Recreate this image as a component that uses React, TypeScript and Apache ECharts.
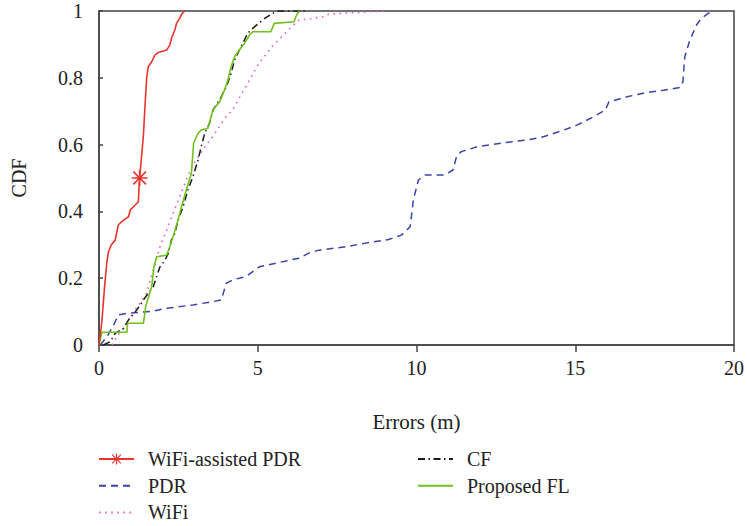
import React, { useEffect, useRef } from "react";
import * as echarts from "echarts";

const FONT = '"Liberation Serif", "Times New Roman", serif';

const X_TICKS = [0, 5, 10, 15, 20];
const Y_TICKS = [0, 0.2, 0.4, 0.6, 0.8, 1];

const STAR_POINT: [number, number] = [1.28, 0.5];

const wifiAssistedPdr: [number, number][] = [
  [0, 0], [0.09, 0.07], [0.18, 0.18], [0.25, 0.25], [0.3, 0.28], [0.39, 0.3],
  [0.51, 0.314], [0.61, 0.36], [0.77, 0.374], [0.93, 0.384], [0.98, 0.404],
  [1.14, 0.419], [1.24, 0.429], [1.26, 0.469], [1.28, 0.5], [1.4, 0.629],
  [1.45, 0.719], [1.5, 0.798], [1.55, 0.833], [1.66, 0.848], [1.76, 0.868],
  [1.87, 0.876], [2.13, 0.883], [2.23, 0.898], [2.3, 0.923], [2.39, 0.943],
  [2.44, 0.963], [2.54, 0.978], [2.62, 0.993], [2.7, 1.0],
];

const pdr: [number, number][] = [
  [0.04, 0], [0.25, 0.025], [0.46, 0.06], [0.61, 0.09], [0.88, 0.095], [1.61, 0.1],
  [2.13, 0.11], [2.96, 0.12], [3.59, 0.13], [3.85, 0.135], [4.01, 0.185], [4.21, 0.195],
  [4.63, 0.205], [5.05, 0.234], [5.57, 0.245], [6.3, 0.26], [6.61, 0.275], [6.93, 0.284],
  [7.76, 0.294], [8.39, 0.305], [9.12, 0.316], [9.53, 0.329], [9.8, 0.354], [9.9, 0.434],
  [10.06, 0.494], [10.27, 0.509], [10.89, 0.509], [11.15, 0.524], [11.26, 0.564],
  [11.41, 0.579], [11.93, 0.594], [12.77, 0.606], [13.5, 0.614], [14.02, 0.624],
  [14.65, 0.644], [15.07, 0.659], [15.59, 0.684], [15.95, 0.704], [16.06, 0.728],
  [16.63, 0.743], [17.15, 0.754], [17.78, 0.763], [18.3, 0.771], [18.39, 0.788],
  [18.45, 0.863], [18.61, 0.913], [18.82, 0.958], [18.97, 0.978], [19.19, 0.993],
  [19.3, 1.0],
];

const wifi: [number, number][] = [
  [0.41, 0], [0.56, 0.025], [0.77, 0.05], [0.98, 0.085], [1.29, 0.125], [1.5, 0.155],
  [1.71, 0.225], [1.92, 0.294], [2.13, 0.344], [2.33, 0.394], [2.54, 0.444],
  [2.75, 0.494], [2.96, 0.539], [3.17, 0.57], [3.38, 0.6], [3.59, 0.625], [3.8, 0.655],
  [4.01, 0.685], [4.21, 0.705], [4.42, 0.74], [4.63, 0.775], [4.84, 0.81], [5.05, 0.845],
  [5.26, 0.87], [5.46, 0.895], [5.78, 0.925], [6.09, 0.955], [6.3, 0.973], [6.72, 0.978],
  [7.08, 0.983], [7.22, 0.99], [7.61, 0.993], [8.23, 0.996], [9.0, 1.0],
];

const cf: [number, number][] = [
  [0.14, 0], [0.35, 0.01], [0.51, 0.035], [0.77, 0.05], [0.93, 0.075], [1.19, 0.105],
  [1.4, 0.135], [1.55, 0.155], [1.71, 0.175], [1.92, 0.234], [2.08, 0.254], [2.18, 0.274],
  [2.28, 0.314], [2.39, 0.334], [2.49, 0.374], [2.65, 0.414], [2.8, 0.464], [2.96, 0.504],
  [3.12, 0.554], [3.22, 0.594], [3.33, 0.634], [3.48, 0.664], [3.59, 0.704], [3.8, 0.734],
  [4.01, 0.773], [4.16, 0.813], [4.27, 0.853], [4.42, 0.883], [4.58, 0.913], [4.68, 0.933],
  [4.84, 0.948], [5.15, 0.973], [5.46, 0.993], [5.67, 1.0], [6.6, 1.0],
];

const proposedFl: [number, number][] = [
  [0, 0], [0.09, 0.038], [0.88, 0.038], [0.9, 0.065], [1.4, 0.065], [1.47, 0.115],
  [1.66, 0.175], [1.73, 0.234], [1.82, 0.264], [2.13, 0.269], [2.23, 0.294], [2.33, 0.324],
  [2.49, 0.374], [2.6, 0.414], [2.75, 0.464], [2.91, 0.514], [2.98, 0.604], [3.12, 0.634],
  [3.22, 0.644], [3.43, 0.649], [3.59, 0.704], [3.8, 0.728], [3.95, 0.763], [4.06, 0.793],
  [4.16, 0.833], [4.27, 0.863], [4.42, 0.883], [4.58, 0.903], [4.74, 0.928], [4.84, 0.938],
  [5.41, 0.938], [5.52, 0.963], [6.14, 0.968], [6.2, 0.983], [6.3, 1.0],
];

const ASTERISK =
  "path://M0 9L20 9L20 11L0 11Z M9 0L11 0L11 20L9 20Z M1.4 2.8L2.8 1.4L18.6 17.2L17.2 18.6Z M17.2 1.4L18.6 2.8L2.8 18.6L1.4 17.2Z";

export default function App() {
  const ref = useRef<HTMLDivElement>(null);
  useEffect(() => {
    if (!ref.current) return;
    const chart = echarts.init(ref.current, null, { renderer: "svg" });
    const legendText = { fontFamily: FONT, fontSize: 20, color: "#222", padding: [0, 0, 0, 9] };
    const starIdx = wifiAssistedPdr.findIndex((p) => p[0] === STAR_POINT[0] && p[1] === STAR_POINT[1]);
    const plain = (name: string) => ({ name, itemStyle: { opacity: 0 } });
    const legendBase = {
      orient: "vertical", itemWidth: 35, itemHeight: 14, itemGap: 6.7,
      padding: 0, height: 140, textStyle: legendText,
    };
    chart.setOption({
      animation: false,
      backgroundColor: "#fff",
      grid: {
        left: 99, right: 10, top: 11, bottom: 181,
        show: true, borderColor: "#444", borderWidth: 1.5, backgroundColor: "transparent",
      },
      legend: [
        { ...legendBase, left: 98, top: 449, data: ["WiFi-assisted PDR", plain("PDR"), plain("WiFi")] },
        { ...legendBase, left: 417, top: 449, data: [plain("CF"), plain("Proposed FL")] },
      ],
      xAxis: {
        type: "value", min: X_TICKS[0], max: X_TICKS[X_TICKS.length - 1], interval: 5,
        name: "Errors (m)", nameLocation: "middle", nameGap: 66,
        nameTextStyle: { fontFamily: FONT, fontSize: 21, color: "#222" },
        axisLine: { lineStyle: { color: "#444", width: 1.5 } },
        axisTick: { show: true, length: 7, lineStyle: { color: "#444", width: 1.5 } },
        axisLabel: { fontFamily: FONT, fontSize: 20, color: "#222", margin: 13 },
        splitLine: { show: false },
      },
      yAxis: {
        type: "value", min: Y_TICKS[0], max: Y_TICKS[Y_TICKS.length - 1], interval: 0.2,
        name: "CDF", nameLocation: "middle", nameGap: 70,
        nameTextStyle: { fontFamily: FONT, fontSize: 20, color: "#222" },
        axisLine: { lineStyle: { color: "#444", width: 1.5 } },
        axisTick: { show: true, inside: true, length: 4, lineStyle: { color: "#444", width: 1.5 } },
        axisLabel: {
          fontFamily: FONT, fontSize: 20, color: "#222", margin: 16,
          formatter: (v: number) => String(parseFloat(v.toFixed(1))),
        },
        splitLine: { show: false },
      },
      series: [
        {
          name: "PDR", type: "line", data: pdr, symbol: "none", z: 2,
          lineStyle: { color: "#3c43a8", width: 1.5, type: [7, 5] }, itemStyle: { color: "#3c43a8" },
        },
        {
          name: "WiFi", type: "line", data: wifi, symbol: "none", z: 3,
          lineStyle: { color: "#e35fcf", width: 1.6, type: [1.6, 4.5] }, itemStyle: { color: "#e35fcf" },
        },
        {
          name: "CF", type: "line", data: cf, symbol: "none", z: 4,
          lineStyle: { color: "#1a1a1a", width: 1.5, type: [7, 3.5, 1.5, 3.5] }, itemStyle: { color: "#1a1a1a" },
        },
        {
          name: "Proposed FL", type: "line", data: proposedFl, symbol: "none", z: 5,
          lineStyle: { color: "#6dc21d", width: 1.6 }, itemStyle: { color: "#6dc21d" },
        },
        {
          name: "WiFi-assisted PDR", type: "line", z: 6,
          data: wifiAssistedPdr.map((p, i) => (i === starIdx ? { value: p } : { value: p, symbol: "none" })),
          symbol: ASTERISK, symbolSize: 16, showSymbol: true,
          lineStyle: { color: "#e8352b", width: 1.6 }, itemStyle: { color: "#e8352b" },
        },
      ],
    });
    return () => chart.dispose();
  }, []);
  return <div ref={ref} style={{ position: "fixed", left: 0, top: 0, width: 747, height: 526 }} />;
}
